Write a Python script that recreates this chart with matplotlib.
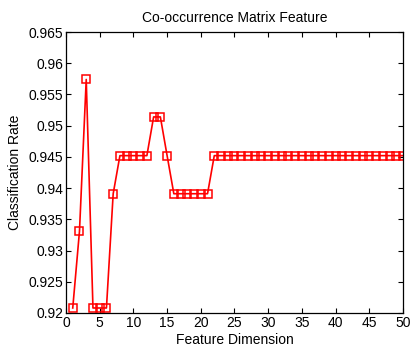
import matplotlib
matplotlib.use("Agg")
import matplotlib.pyplot as plt
from matplotlib.ticker import FuncFormatter

plt.rcParams['font.family'] = ['Liberation Sans', 'DejaVu Sans']

# feature dimension 1..50 and classification rate
dims = list(range(1, 51))
rates = ([0.9208, 0.9331, 0.9574, 0.9208, 0.9208, 0.9208, 0.9391]
         + [0.9452] * 5
         + [0.9514, 0.9514, 0.9452]
         + [0.9391] * 6
         + [0.9452] * 29)

xticks = list(range(0, 51, 5))
yticks = [0.92, 0.925, 0.93, 0.935, 0.94, 0.945, 0.95, 0.955, 0.96, 0.965]

fig = plt.figure(figsize=(4.11, 3.49), dpi=100)
ax = fig.add_axes([0.1606, 0.1032, 0.8199, 0.8051])

ax.plot(dims, rates, color='red', lw=1.2, marker='s', ms=5.5,
        mfc='none', mec='red', mew=1.1)

ax.set_xlim(0, 50)
ax.set_ylim(0.92, 0.965)
ax.set_xticks(xticks)
ax.set_yticks(yticks)
ax.yaxis.set_major_formatter(FuncFormatter(lambda v, p: '%g' % round(v, 3)))
ax.tick_params(direction='in', top=True, right=True, length=3.5,
               labelsize=10, width=0.8, pad=2)
for s in ax.spines.values():
    s.set_linewidth(0.9)

ax.set_title('Co-occurrence Matrix Feature', fontsize=10, pad=7)
ax.set_xlabel('Feature Dimension', fontsize=10, labelpad=2)
ax.set_ylabel('Classification Rate', fontsize=10, labelpad=5)

fig.savefig('out.png', dpi=100)
